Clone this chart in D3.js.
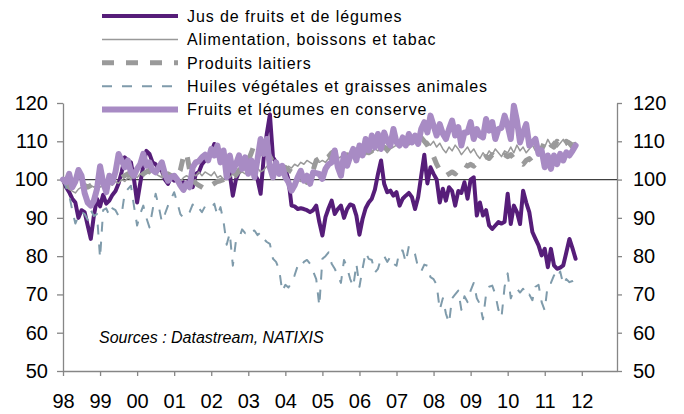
<!DOCTYPE html>
<html><head><meta charset="utf-8">
<script src="https://cdn.jsdelivr.net/npm/d3@7"></script>
<style>
html,body{margin:0;padding:0;background:#fff;}
svg{display:block;font-family:"Liberation Sans",Arial,sans-serif;}
</style></head><body>
<svg id="chart" width="684" height="414"></svg>
<script>
// ---- DATA (monthly index values, Jan 1998 onward) ----
const startYear = 1998;
const yearTicks = [1998,1999,2000,2001,2002,2003,2004,2005,2006,2007,2008,2009,2010,2011,2012];
const yearLabels = ["98","99","00","01","02","03","04","05","06","07","08","09","10","11","12"];
const yTicks = [50,60,70,80,90,100,110,120];
const seriesNames = [
  "Jus de fruits et de légumes",
  "Alimentation, boissons et tabac",
  "Produits laitiers",
  "Huiles végétales et graisses animales",
  "Fruits et légumes en conserve"
];
const sourceText = "Sources : Datastream, NATIXIS";

const jus = [
 100,98,96.7,95,94,90,92,91.5,88,84.5,90.6,95,
 93,96,93.7,94.5,96,97,99,102,105.8,105,104.5,100,
 94,99,103.6,107.5,106.7,104.5,104,102.8,102.3,100,98.9,100.6,
 99.7,100,98.9,99.3,98.9,100,98,101.5,102,104,105,106.3,
 107,109.3,106.3,107,106.3,103,101.5,95.8,100,102,103.7,105.8,
 104.5,103.6,101.5,100,96.3,105.8,112,117,105.8,104.5,103,103,
 102.8,100,93.2,93,92.3,92.5,92.3,92,91.5,92,93.2,88.9,
 85.4,90.2,92.5,94.5,91,92.3,93.2,90,92.3,93.5,93.2,90.6,
 85.6,89.7,92.5,94,95,97.4,101.5,105,98.9,96.7,97.1,95.8,
 96.7,93.2,95,95.8,96.5,95.4,92.3,95.4,101,106.5,99,103.2,
 101.5,100,94,97.6,94.5,98,97,93.2,97,96.5,99.3,95,
 100,100.6,90.6,94,90.6,92,88,87.1,88,88.9,88.5,89,
 96.3,88.4,93.2,91.5,88.4,97.1,94,91.5,86.3,84.5,82.8,80.2,
 81.9,77.1,81.9,77.6,76.7,77,77.6,81,84.5,82,79.3
];
const alimentation = [
 100,98.5,97.5,97,96.5,97.5,98,97.5,98,98.5,98,98.5,
 98,98.5,98,99,98.5,99.5,99,100,99.5,100.5,100,101,
 100.5,101.5,101,102,101.5,102.5,101.5,101,100.5,101,100.5,101,
 100,100.5,99.5,100.5,101,100.5,101.5,101,102,101,102,101.5,
 101,102,100.5,101,100,101,100.5,101.5,100.5,101.5,102,101.5,
 102,101.5,102.5,103,102,102.5,103.5,102.5,103,102.5,103.5,103,
 102.5,103.5,103,104,103.5,104.5,104,105,104.5,104,105,104.5,
 105,104.5,105.5,105,106,105.5,106,105.5,106.5,106,107,106.5,
 106,107,106.5,107.5,107,108,107.5,108.5,108,107,108,108.5,
 109,108.5,109.5,110,109,110.5,110,111,110.5,109.5,110,109,
 110,108.5,109.5,108,107,108.5,107.5,109,108,106.5,107.5,108.5,
 107,108,106.5,105.5,107,106,107.5,106.5,108,107,106,107.5,
 107,108.5,107,109,107.5,108.5,107,108,109,107.5,106.5,107.5,
 108.5,110.5,109,110,108.5,109.5,110.5,109,110,109.5,109.7
];
const laitiers = [
 100,99,98,97.5,98,98.5,99,98.5,98,98.5,99,99.5,
 99,98.5,99,99.5,100,100.5,101,100.5,101,101.5,101,100.5,
 101,100.5,101.5,102,102.5,102,101.5,101,101.5,101,101.5,101,
 100.5,101,102.5,106,107,102.5,100,99,98.5,98,97.5,98,
 98.5,99,99.5,99.7,100,100.5,101,102,101.5,102.5,103,103.2,
 105,107,109.3,108,106.7,109.7,107.5,106,104.5,104,103.5,103,
 103.2,102.5,102,101.5,101,100,100.5,99.3,100.5,102.5,105,105.5,
 106.3,105.5,106,107,107.5,106,105.5,106,106.5,106,107,106.5,
 107,106.5,107.5,107,107.5,108,107.5,108,108.5,108,109,108.5,
 108,109,109.5,110,110.5,110,109.5,110.5,111,110,109,107.5,
 106,104,102.5,101.5,101,101.5,102,101.5,102.5,103.5,104,103.5,
 104,103.5,104.5,105,105.5,106,105.5,106.5,106,105.5,106,106.5,
 106,106.5,105.5,105,104.5,104,105,105.5,104.5,105,106,108,
 110,110.5,109,108.5,110,109,108.5,110,109.5,108.5,109.5
];
const huiles = [
 100,98,96,92,88.5,90.5,91.5,91,89.5,92,90.5,91,
 79.5,92,92.5,90.6,92.5,92,90.5,91,96.5,97.5,98.4,93,
 88,91,93.2,90,87.5,92,96.3,93,89,91,93.2,95,
 96.7,94,91,90,90.5,91.5,93.5,92,92.5,91.5,93,92.8,
 92.5,93.7,90.6,92.8,89,83,86,77.5,84,84.5,87,86,
 87,86.5,86.7,85.5,86.2,84.5,83.7,83.2,79.3,78.5,76.5,70.8,
 72.5,71.8,73,75,77.5,77,78.5,79,78,76,74,67,
 79.3,80,81,78,76.7,75,73,79,77,74,72,78,
 72,76.7,81,79.3,79,75.7,76.7,79.5,80,78.5,79.8,78,
 77.5,81.5,81.5,78.4,82.6,82,80.5,77,76,77.8,77.5,74.5,
 74,72.5,66,69,65,62.5,69,70,71,66,69.5,68,
 71,73,69,67.5,63.5,70,72,72.3,70,66,64,72,
 75.5,69,71,71.5,70.5,71.5,69.5,70,68.5,72,72.5,68,
 65.8,72.8,73,75,74,76,72.6,74,73.2,73.5,74
];
const conserve = [
 100,99.3,101.5,98,99.5,102.5,101,96.5,94,93.2,94.5,97.5,
 103.5,99.3,96.7,101,99.3,102,106.7,105,103.2,105,101.9,101,
 102.8,104,106.7,103.6,104.5,102.5,101.9,103.2,104.5,101.5,99.7,100.6,
 101,100,98.5,97.3,99,98,103.2,104.5,104.8,105.8,106.5,105,
 108,106.3,108.9,104.5,107.6,100.6,106.3,102.3,104,106.3,102.8,105.8,
 101.5,105,100.6,105.4,110.6,106.7,110.6,103.2,100.6,104.5,101.5,103.6,
 100.6,99.3,97.1,98.5,100.6,102.3,99.7,101,98.9,101.9,101.7,101.5,
 100.2,102.8,104,104.5,107.6,103.2,101,106.7,103.6,106,108,105,
 108.9,106.3,110.6,107.6,111.5,108.4,111.9,108,112.3,110,108.9,113.2,
 109.7,108.9,111,108.9,111.9,109.7,111.5,109.3,113.2,115,112.3,116.7,
 114.1,111.5,114.5,112,110.6,113.2,115.4,111.5,113.7,108.9,112.3,112.3,
 115,110.6,113.2,111.5,111,115.8,112.8,115,110.6,113.2,113.5,116.7,
 114.1,110.6,119.3,115.4,109.7,112.3,114.5,108.9,109.7,110.6,106.7,107.6,
 103.2,106.3,102.8,106.3,104,106.7,105,107.1,106.3,107.5,108.9
];

// ---- STYLES ----
const styles = [
  {color:"#561d79", width:4,   dash:null},
  {color:"#999999", width:1.5, dash:null},
  {color:"#9a9a9a", width:5,   dash:"12,12"},
  {color:"#7f9bab", width:2,   dash:"10,10"},
  {color:"#a88bc4", width:6,   dash:null}
];
const seriesData = [jus, alimentation, laitiers, huiles, conserve];

const svg = d3.select("#chart");
const x = d3.scaleLinear().domain([1998, 2012.95]).range([63, 617]);
const y = d3.scaleLinear().domain([50, 120]).range([371, 103]);

// axes
const axisColor = "#868686";
const gL = svg.append("g").attr("transform","translate(63,0)")
  .call(d3.axisLeft(y).tickValues(yTicks).tickSize(6).tickSizeOuter(0).tickPadding(9));
const gR = svg.append("g").attr("transform","translate(617,0)")
  .call(d3.axisRight(y).tickValues(yTicks).tickSize(5).tickSizeOuter(0).tickPadding(11));
const gB = svg.append("g").attr("transform","translate(0,371)")
  .call(d3.axisBottom(x).tickValues(yearTicks).tickFormat((d,i)=>yearLabels[i]).tickSize(5).tickSizeOuter(0).tickPadding(18));
[gL,gR,gB].forEach(g=>{
  g.select(".domain").attr("stroke",axisColor).attr("stroke-width",1.3);
  g.selectAll(".tick line").attr("stroke",axisColor).attr("stroke-width",1.3);
  g.selectAll("text").attr("fill","#000").style("font-size","20px")
   .style("font-family","'Liberation Sans',Arial,sans-serif");
});

// 100 reference line
svg.append("line").attr("x1",x(1998)).attr("x2",x(2012.95))
  .attr("y1",y(100)).attr("y2",y(100)).attr("stroke","#404040").attr("stroke-width",1.2);

// source note
svg.append("text").attr("x",99).attr("y",343).text(sourceText)
  .style("font-size","16px").style("font-style","italic").attr("fill","#000");

// legend
const lg = svg.append("g");
seriesNames.forEach((name,i)=>{
  const yy = 16 + i*23.4;
  const s = styles[i];
  lg.append("line").attr("x1",102).attr("x2",178).attr("y1",yy).attr("y2",yy)
    .attr("stroke",s.color).attr("stroke-width",s.width)
    .attr("stroke-dasharray",s.dash);
  lg.append("text").attr("x",187).attr("y",yy).attr("dy","0.36em").text(name)
    .style("font-size","16px").style("letter-spacing","0.9px").attr("fill","#000");
});

// series
const line = d3.line()
  .x((d,i)=>x(startYear + i/12))
  .y(d=>y(d));
seriesData.forEach((arr,i)=>{
  const s = styles[i];
  svg.append("path").datum(arr).attr("d",line)
    .attr("fill","none").attr("stroke",s.color).attr("stroke-width",s.width)
    .attr("stroke-linejoin","round").attr("stroke-linecap", s.dash ? "butt" : "round")
    .attr("stroke-dasharray",s.dash);
});
</script>
</body></html>
